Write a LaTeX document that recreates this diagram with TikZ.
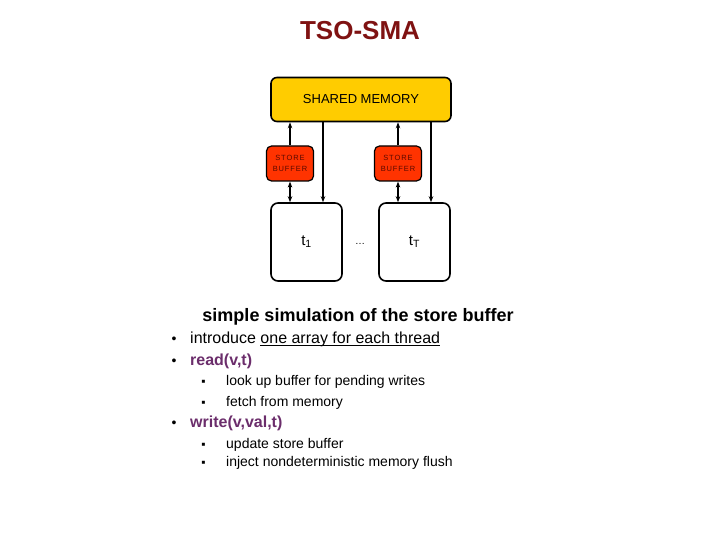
\documentclass[tikz,border=0pt]{standalone}
\usepackage{fontspec}
\setmainfont{Liberation Sans}
\usepackage{xcolor}
\usepackage{tikz}
\usetikzlibrary{arrows.meta, positioning, calc}

\definecolor{titlered}{HTML}{7F1212}
\definecolor{memgold}{HTML}{FFCC00}
\definecolor{bufred}{HTML}{FF3300}
\definecolor{bufink}{HTML}{5A0A00}
\definecolor{opviolet}{HTML}{6B2D6B}

% underline sitting close to the baseline
\newcommand{\underrule}[1]{\setbox0\hbox{#1}\rlap{\rule[-2.4pt]{\wd0}{0.8pt}}\box0}

\begin{document}
\begin{tikzpicture}[x=1pt, y=-1pt, every node/.style={inner sep=0pt},
    membox/.style={draw, line width=1.6pt, rounded corners=6pt, fill=memgold,
        minimum width=180pt, minimum height=44pt, font=\fontsize{13}{15}\selectfont},
    bufbox/.style={draw, line width=1.2pt, rounded corners=5pt, fill=bufred, text=bufink,
        minimum width=47pt, minimum height=35pt, align=center,
        font=\fontsize{7.5}{11}\selectfont\addfontfeature{LetterSpace=12}},
    thrbox/.style={draw, line width=1.6pt, rounded corners=7pt, fill=white,
        minimum width=71pt, minimum height=78pt, font=\fontsize{15}{17}\selectfont},
    link/.style={-{Stealth[length=6pt, width=4.5pt]}, line width=1.4pt},
    dlink/.style={{Stealth[length=6pt, width=4.5pt]}-{Stealth[length=6pt, width=4.5pt]}, line width=1.4pt},
    item/.style={anchor=base west, font=\fontsize{16}{18}\selectfont},
    subitem/.style={anchor=base west, font=\fontsize{14}{16}\selectfont},
    op/.style={item, text=opviolet, font=\fontsize{16}{18}\selectfont\bfseries}]

    \useasboundingbox (0,0) rectangle (720,540);

    \node[anchor=base, text=titlered, font=\fontsize{26}{28}\selectfont\bfseries] (title) at (360,40) {TSO-SMA};

    % memory, store buffers, threads
    \node[membox] (mem) at (361,99.5) {SHARED MEMORY};
    \node[bufbox] (sbl) at (290,163.5) {STORE\\BUFFER};
    \node[bufbox] (sbr) at (398,163.5) {STORE\\BUFFER};
    \node[thrbox] (thl) at (306.5,242) {t\textsubscript{1}};
    \node[thrbox] (thr) at (414.5,242) {t\textsubscript{T}};
    \node[font=\fontsize{10}{12}\selectfont] (dots) at (360,244) {\ldots};

    \foreach \b/\t in {sbl/thl, sbr/thr} {
        \draw[link] (\b.north) -- (\b.north |- mem.south);
        \draw[dlink] (\b.south) -- (\b.south |- \t.north);
        \draw[link] ($(\t.north |- mem.south)+(16.5,0)$) -- ($(\t.north)+(16.5,0)$);
    }

    % list below
    \node[anchor=base, font=\fontsize{18}{20}\selectfont\bfseries] (head) at (358,321) {simple simulation of the store buffer};

    \foreach \n/\y in {1/343, 2/365, 3/427}
        \node[anchor=base, font=\fontsize{14}{16}\selectfont] (b\n) at (174,\y) {•};
    \foreach \n/\y in {1/385, 2/406, 3/448, 4/466}
        \node[anchor=base, font=\fontsize{12}{14}\selectfont] (s\n) at (203.5,\y) {▪};

    \node[item] (intro) at (190,343) {introduce \underrule{one array for each thread}};
    \node[op] (rd) at (190,365) {read(v,t)};
    \node[subitem] (rd1) at (226,385) {look up buffer for pending writes};
    \node[subitem] (rd2) at (226,406) {fetch from memory};
    \node[op] (wr) at (190,427) {write(v,val,t)};
    \node[subitem] (wr1) at (226,448) {update store buffer};
    \node[subitem] (wr2) at (226,466) {inject nondeterministic memory flush};
\end{tikzpicture}
\end{document}
